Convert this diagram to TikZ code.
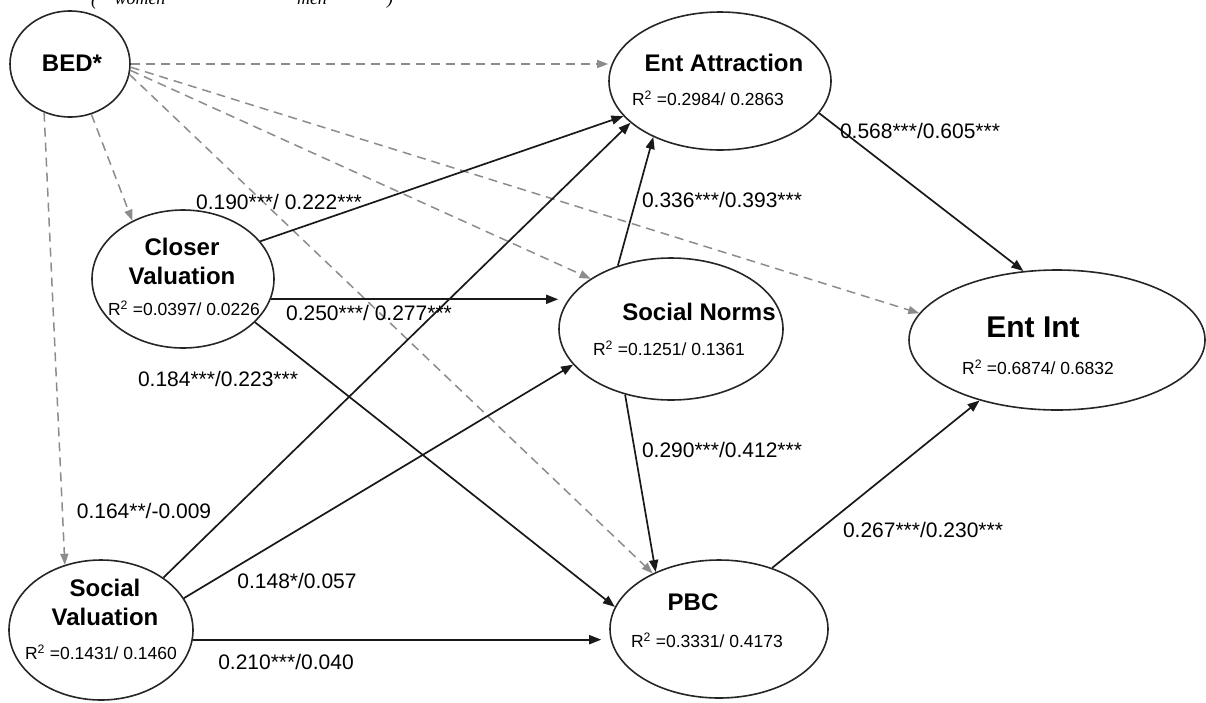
\documentclass[tikz,border=0pt]{standalone}
\usepackage{fontspec}
\setmainfont{Liberation Sans}
\newfontfamily\rfont{Liberation Sans}
\newfontfamily\tfont{Liberation Serif}
\usetikzlibrary{shapes.geometric,arrows.meta}
\definecolor{dgray}{RGB}{140,140,140}
\begin{document}
\begin{tikzpicture}[x=1pt,y=-1pt,
 lv/.style={draw=black!85, line width=1.6pt, ellipse, inner sep=0pt},
 ttl/.style={font=\fontsize{24}{29}\selectfont\bfseries, align=center, inner sep=0pt},
 big/.style={font=\fontsize{30}{34}\selectfont\bfseries, inner sep=0pt},
 rsq/.style={font=\rfont\fontsize{17.5}{20}\selectfont, inner sep=0pt},
 lbl/.style={font=\fontsize{21}{24}\selectfont, inner sep=0pt},
 top/.style={font=\tfont\itshape\fontsize{18}{20}\selectfont, anchor=base, inner sep=0pt},
 arr/.style={line width=1.7pt, draw=black!90, -{Triangle[length=12pt,width=9pt]}},
 darr/.style={line width=1.5pt, draw=dgray, dash pattern=on 9pt off 6pt, -{Triangle[length=11pt,width=8pt]}}]
\useasboundingbox (0,0) rectangle (1206,702);
\clip (0,0) rectangle (1206,702);

% clipped heading remnants
\node[top] (p1) at (94,5) {(};
\node[top] (w1) at (140,4) {women};
\node[top] (m1) at (312,4) {men};
\node[top] (p2) at (390,4) {)};

% latent variables
\node[lv, minimum width=120pt, minimum height=106pt] (bed) at (70,64) {};
\node[lv, minimum width=222pt, minimum height=138pt] (attr) at (720,81) {};
\node[lv, minimum width=182pt, minimum height=138pt] (closer) at (183,279) {};
\node[lv, minimum width=224pt, minimum height=142pt] (norms) at (671,329) {};
\node[lv, minimum width=296pt, minimum height=140pt] (entint) at (1057,340) {};
\node[lv, minimum width=184pt, minimum height=140pt] (socval) at (101,630) {};
\node[lv, minimum width=218pt, minimum height=138pt] (pbc) at (719,629) {};

% texts inside
\node[ttl] (bedT) at (72,63) {BED*};
\node[ttl] (attrT) at (724,63) {Ent Attraction};
\node[rsq] (attrR) at (708,98) {R\textsuperscript{2} =0.2984/ 0.2863};
\node[ttl] (closerT) at (182,261) {Closer\\Valuation};
\node[rsq] (closerR) at (184,308) {R\textsuperscript{2} =0.0397/ 0.0226};
\node[ttl] (normsT) at (699,312) {Social Norms};
\node[rsq] (normsR) at (669,348) {R\textsuperscript{2} =0.1251/ 0.1361};
\node[big] (entintT) at (1033,327) {Ent Int};
\node[rsq] (entintR) at (1038,367) {R\textsuperscript{2} =0.6874/ 0.6832};
\node[ttl] (socvalT) at (105,602) {Social\\Valuation};
\node[rsq] (socvalR) at (101,652) {R\textsuperscript{2} =0.1431/ 0.1460};
\node[ttl] (pbcT) at (693,602) {PBC};
\node[rsq] (pbcR) at (707,640) {R\textsuperscript{2} =0.3331/ 0.4173};

% dashed paths from BED*
\draw[darr] (bed.east) -- (bed.east -| attr.west);
\draw[darr] (bed.-67) -- (closer.131);
\draw[darr] (bed.-118) -- (socval.119);
\draw[darr] (bed.-6) -- (norms.148);
\draw[darr] (bed.-3) -- (entint.169);
\draw[darr] (bed.-10) -- (pbc.140);

% solid paths
\draw[arr] (closer.26) -- (attr.-160);
\draw[arr] (closer.-13) -- (closer.-13 -| norms.west);
\draw[arr] (closer.-31) -- (pbc.168);
\draw[arr] (socval.40) -- (attr.-155);
\draw[arr] (socval.21) -- (norms.-160);
\draw[arr, shorten >=8pt] (socval.-6) -- (socval.-6 -| pbc.west);
\draw[arr] (norms.130) -- (attr.-140);
\draw[arr] (norms.-125) -- (pbc.138);
\draw[arr] (attr.-18) -- (entint.116);
\draw[arr] (pbc.49) -- (entint.-142);

% coefficient labels
\node[lbl] (l190) at (279,202) {0.190***/ 0.222***};
\node[lbl] (l250) at (369,313) {0.250***/ 0.277***};
\node[lbl] (l184) at (218,379) {0.184***/0.223***};
\node[lbl] (l568) at (920,131) {0.568***/0.605***};
\node[lbl] (l336) at (722,200) {0.336***/0.393***};
\node[lbl] (l290) at (722,450) {0.290***/0.412***};
\node[lbl] (l267) at (923,530) {0.267***/0.230***};
\node[lbl] (l164) at (144,511) {0.164**/-0.009};
\node[lbl] (l148) at (297,581) {0.148*/0.057};
\node[lbl] (l210) at (286,662) {0.210***/0.040};
\end{tikzpicture}
\end{document}
